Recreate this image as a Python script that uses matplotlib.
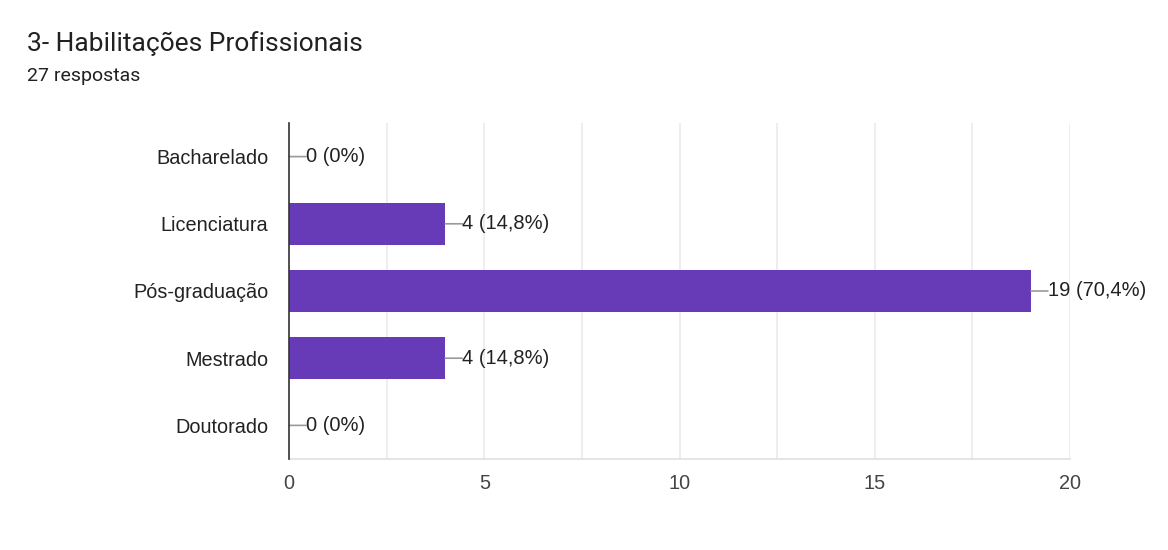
import matplotlib
matplotlib.use("Agg")
import matplotlib.pyplot as plt

categories = ["Bacharelado", "Licenciatura", "Pós-graduação", "Mestrado", "Doutorado"]
values = [0, 4, 19, 4, 0]
value_labels = ["0 (0%)", "4 (14,8%)", "19 (70,4%)", "4 (14,8%)", "0 (0%)"]
x_ticks = [0, 5, 10, 15, 20]
title = "3- Habilitações Profissionais"
subtitle = "27 respostas"

fig = plt.figure(figsize=(11.68, 5.5), dpi=100)
fig.patch.set_facecolor("white")
ax = fig.add_axes([289/1168, 1-459/550, (1070-289)/1168, (459-123)/550])

y = list(range(len(categories)))
ax.barh(y, values, height=0.63, color="#673ab7", zorder=3)
ax.set_ylim(len(categories)-0.5, -0.5)
ax.set_xlim(0, 20)
ax.set_xticks(x_ticks)
ax.set_xticks([2.5*i for i in range(9)], minor=True)
ax.grid(True, axis="x", which="both", color="#ebebeb", linewidth=1.2, zorder=0)
ax.set_yticks(y)
ax.set_yticklabels(categories, fontsize=14.3, family="Liberation Sans", color="#222222")
ax.set_xticklabels([str(t) for t in x_ticks], fontsize=14.3, family="Liberation Sans", color="#444444")
ax.tick_params(axis="both", which="both", length=0)
ax.tick_params(axis="y", pad=15)
ax.tick_params(axis="x", pad=11)
for s in ["top", "right"]:
    ax.spines[s].set_visible(False)
ax.spines["left"].set_color("#333333")
ax.spines["left"].set_linewidth(1.2)
ax.spines["left"].set_zorder(4)
ax.spines["bottom"].set_color("#e0e0e0")
ax.spines["bottom"].set_linewidth(1.2)

for yi, v, lab in zip(y, values, value_labels):
    ax.annotate("", xy=(v, yi), xytext=(17, 0), textcoords="offset pixels",
                arrowprops=dict(arrowstyle="-", color="#999999", lw=1.2,
                                shrinkA=0, shrinkB=0), zorder=4)
    ax.annotate(lab, xy=(v, yi), xytext=(17, 0), textcoords="offset pixels",
                va="center", ha="left", fontsize=14.5, family="Liberation Sans",
                color="#222222", zorder=5)

fig.text(27/1168, 1-44/550, title, fontsize=19, family="Roboto", color="#212121",
         va="center", ha="left")
fig.text(27/1168, 1-76/550, subtitle, fontsize=14, family="Roboto", color="#212121",
         va="center", ha="left")

fig.savefig("out.png", dpi=100, facecolor="white")
